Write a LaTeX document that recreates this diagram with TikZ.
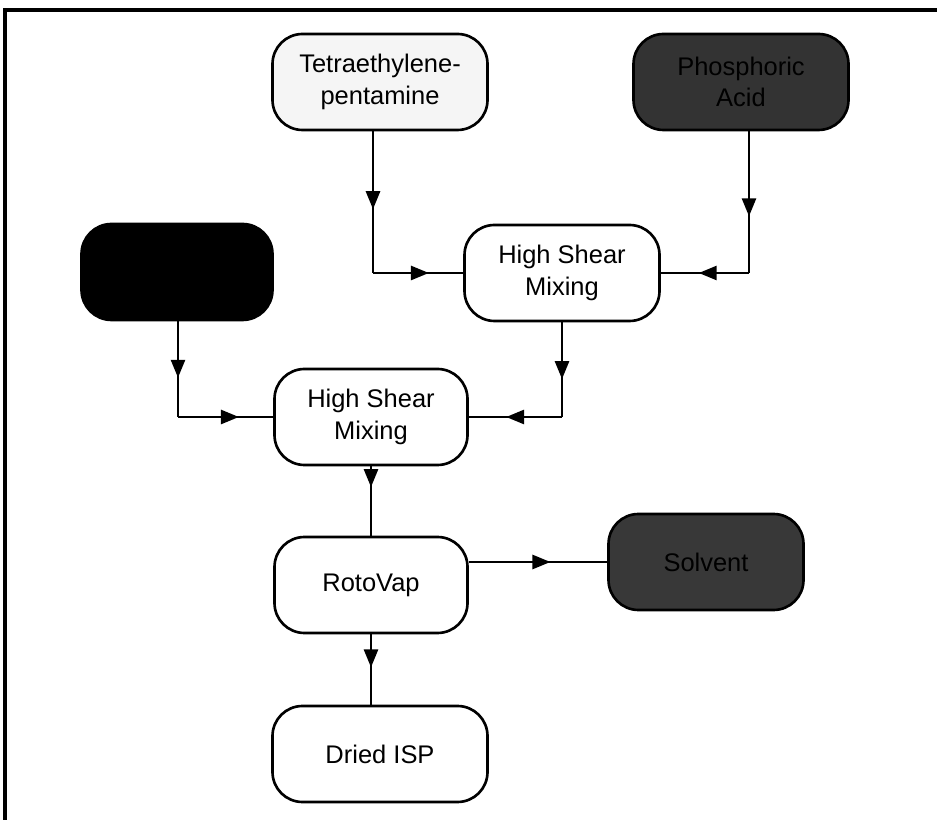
\documentclass[tikz,border=0pt]{standalone}
\usepackage{fontspec}
\setmainfont{Liberation Sans}
\usetikzlibrary{arrows.meta,decorations.markings}

\tikzset{
  box/.style={draw, line width=1.5pt, rounded corners=0.6cm, minimum width=3.86cm,
    minimum height=1.92cm, align=center, font=\fontsize{14.5}{18}\selectfont},
  flow/.style={line width=1.5pt, postaction={decorate},
    decoration={markings, mark=at position #1 with {\arrow{Triangle[length=0.36cm,width=0.28cm]}}}},
  flow/.default=0.6
}

\begin{document}
\begin{tikzpicture}

\useasboundingbox (0,0) rectangle (18.74,16.4);

%frame
\draw[line width=2pt] (18.74,16.2) -- (0.1,16.2) -- (0.1,0);

%raw materials
\node [box, fill=gray!8, minimum width=4.3cm] (tepa) at (7.6,14.76) {Tetraethylene-\\pentamine};
\node [box, fill=black!80, minimum width=4.3cm] (acid) at (14.82,14.76) {Phosphoric\\Acid};
\node [box, fill=black, minimum width=3.82cm] (third) at (3.54,10.96) {};

%process steps
\node [box, minimum width=3.9cm] (mixA) at (11.24,10.94) {High Shear\\Mixing};
\node [box] (mixB) at (7.42,8.06) {High Shear\\Mixing};
\node [box] (roto) at (7.42,4.7) {RotoVap};
\node [box, fill=black!78, minimum width=3.9cm] (solvent) at (14.12,5.16) {Solvent};
\node [box, minimum width=4.3cm] (dried) at (7.6,1.32) {Dried ISP};

%junctions
\coordinate (tepaJ) at (7.46,10.94);
\coordinate (acidJ) at (14.98,10.94);
\coordinate (thirdJ) at (3.56,8.06);
\coordinate (mixAJ) at (11.24,8.06);

%first mixing
\draw[flow=0.55] (tepa.south -| tepaJ) -- (tepaJ);
\draw[flow=0.62] (tepaJ) -- (mixA.west);
\draw[flow=0.6] (acid.south -| acidJ) -- (acidJ);
\draw[flow=0.57] (acidJ) -- (mixA.east);

%second mixing
\draw[flow=0.59] (third.south -| thirdJ) -- (thirdJ);
\draw[flow=0.64] (thirdJ) -- (mixB.west);
\draw[flow=0.6] (mixA.south) -- (mixAJ);
\draw[flow=0.6] (mixAJ) -- (mixB.east);

%drying
\draw[flow=0.3] (mixB.south) -- (roto.north);
\draw[flow=0.59] (roto.east |- solvent.west) -- (solvent.west);
\draw[flow=0.47] (roto.south) -- (roto.south |- dried.north);

\end{tikzpicture}
\end{document}
